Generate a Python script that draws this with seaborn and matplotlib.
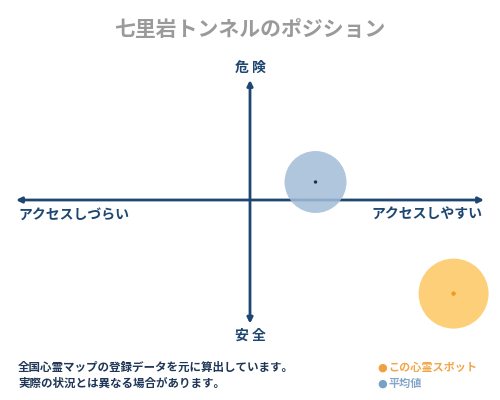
import matplotlib
matplotlib.use('Agg')
import matplotlib.pyplot as plt
import seaborn as sns
import pandas as pd

sns.set_theme(style='white')
plt.rcParams['font.family'] = ['Noto Sans CJK JP', 'DejaVu Sans']

navy = '#1d4670'

# position data: x = access (easy > 0), y = danger (dangerous > 0)
labels = ['平均値', 'この心霊スポット']
access = [0.28, 0.87]
danger = [0.15, -0.78]
sizes = [1990, 2540]
colors = ['#a3bcd8', '#fdca6a']
dot_colors = ['#1d3050', '#f29a1c']

title = '七里岩トンネルのポジション'
axis_top, axis_bottom = '危 険', '安 全'
axis_left, axis_right = 'アクセスしづらい', 'アクセスしやすい'
notes = ['全国心霊マップの登録データを元に算出しています。',
         '実際の状況とは異なる場合があります。']

df = pd.DataFrame({'label': labels, 'access': access, 'danger': danger,
                   'size': sizes})

fig = plt.figure(figsize=(5, 4), dpi=100, facecolor='white')
ax = fig.add_axes([0, 0, 1, 1])
ax.set_xlim(-250 / 234, 250 / 234)
ax.set_ylim(-200 / 120, 200 / 120)
ax.axis('off')

# axes arrows
arrow = dict(arrowstyle='<|-|>', color=navy, lw=2, mutation_scale=8,
             shrinkA=0, shrinkB=0)
ax.annotate('', xy=(1, 0), xytext=(-1, 0), arrowprops=arrow)
ax.annotate('', xy=(0, 1), xytext=(0, -1.03), arrowprops=arrow)

for i, row in df.iterrows():
    sns.scatterplot(x=[row['access']], y=[row['danger']], s=row['size'],
                    color=colors[i], alpha=0.85 if i == 0 else 0.9,
                    edgecolor='none', ax=ax, zorder=3)
    sns.scatterplot(x=[row['access']], y=[row['danger']], s=6 if i == 0 else 10,
                    color=dot_colors[i], edgecolor='none', ax=ax, zorder=4)

fig.text(0.5, 0.925, title, ha='center', va='center', fontsize=15,
         fontweight='bold', color='#9a9a9a')
fig.text(0.5, 0.83, axis_top, ha='center', va='center', fontsize=10,
         fontweight='bold', color=navy)
fig.text(0.5, 0.162, axis_bottom, ha='center', va='center', fontsize=10,
         fontweight='bold', color=navy)
fig.text(0.036, 0.462, axis_left, ha='left', va='center', fontsize=10,
         fontweight='bold', color=navy)
fig.text(0.964, 0.462, axis_right, ha='right', va='center', fontsize=10,
         fontweight='bold', color=navy)

fig.text(0.036, 0.082, notes[0], ha='left', va='center', fontsize=8.3,
         fontweight='bold', color='#1f3656')
fig.text(0.036, 0.042, notes[1], ha='left', va='center', fontsize=8.3,
         fontweight='bold', color='#1f3656')

fig.text(0.755, 0.082, '●', ha='left', va='center', fontsize=8,
         color='#f0a040', family=['DejaVu Sans'])
fig.text(0.777, 0.082, labels[1], ha='left', va='center', fontsize=8,
         fontweight='bold', color='#f2a64a')
fig.text(0.755, 0.042, '●', ha='left', va='center', fontsize=8,
         color='#7aa0c8', family=['DejaVu Sans'])
fig.text(0.777, 0.042, labels[0], ha='left', va='center', fontsize=8,
         fontweight='bold', color='#86a6c8')

fig.savefig('out.png', dpi=100, facecolor='white')
